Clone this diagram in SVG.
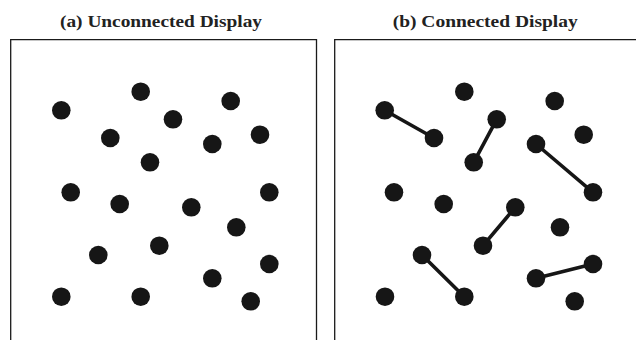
<svg xmlns="http://www.w3.org/2000/svg" width="636" height="340" viewBox="0 0 636 340">
<style>
.title{font-family:"Liberation Serif","DejaVu Serif",serif;font-weight:bold;font-size:17px;fill:#222;text-anchor:middle}
.frame{fill:none;stroke:#1a1a1a;stroke-width:1.3}
.dot{fill:#161616}
.link{stroke:#161616;stroke-width:3.6;stroke-linecap:round}
</style>
<rect width="636" height="340" fill="#fff"/>
<g id="panel-a">
<text class="title" x="161" y="26.5" textLength="202" lengthAdjust="spacingAndGlyphs">(a) Unconnected Display</text>
<path class="frame" d="M10.7,345 V39.7 H316.5 V345"/>
</g>
<g id="panel-b">
<text class="title" x="485.2" y="26.5" textLength="185" lengthAdjust="spacingAndGlyphs">(b) Connected Display</text>
<path class="frame" d="M334.7,345 V39.7 H645"/>
</g>
<g id="connectors">
<line class="link" x1="384.7" y1="110.3" x2="434" y2="138"/>
<line class="link" x1="496.7" y1="119.3" x2="473.7" y2="162.3"/>
<line class="link" x1="536" y1="144" x2="593" y2="192.3"/>
<line class="link" x1="515.3" y1="207.3" x2="483" y2="245.7"/>
<line class="link" x1="422" y1="255" x2="464.3" y2="296.7"/>
<line class="link" x1="536" y1="278.3" x2="593" y2="264"/>
</g>
<g id="dots-a">
<circle class="dot" cx="61.3" cy="110.3" r="9.3"/>
<circle class="dot" cx="140.7" cy="91.7" r="9.3"/>
<circle class="dot" cx="230.7" cy="101" r="9.3"/>
<circle class="dot" cx="173" cy="119.3" r="9.3"/>
<circle class="dot" cx="110.3" cy="138" r="9.3"/>
<circle class="dot" cx="212.3" cy="144" r="9.3"/>
<circle class="dot" cx="260" cy="134.7" r="9.3"/>
<circle class="dot" cx="150" cy="162.3" r="9.3"/>
<circle class="dot" cx="70.7" cy="192.3" r="9.3"/>
<circle class="dot" cx="269.3" cy="192.3" r="9.3"/>
<circle class="dot" cx="119.7" cy="204" r="9.3"/>
<circle class="dot" cx="191.3" cy="207.3" r="9.3"/>
<circle class="dot" cx="236.3" cy="227.3" r="9.3"/>
<circle class="dot" cx="98.3" cy="255" r="9.3"/>
<circle class="dot" cx="159.3" cy="245.7" r="9.3"/>
<circle class="dot" cx="269.3" cy="264" r="9.3"/>
<circle class="dot" cx="212.3" cy="278.3" r="9.3"/>
<circle class="dot" cx="61.3" cy="296.7" r="9.3"/>
<circle class="dot" cx="140.7" cy="296.7" r="9.3"/>
<circle class="dot" cx="250.7" cy="301.3" r="9.3"/>
</g>
<g id="dots-b">
<circle class="dot" cx="384.7" cy="110.3" r="9.3"/>
<circle class="dot" cx="464.3" cy="91.7" r="9.3"/>
<circle class="dot" cx="554.7" cy="101" r="9.3"/>
<circle class="dot" cx="496.7" cy="119.3" r="9.3"/>
<circle class="dot" cx="434" cy="138" r="9.3"/>
<circle class="dot" cx="536" cy="144" r="9.3"/>
<circle class="dot" cx="583.7" cy="134.7" r="9.3"/>
<circle class="dot" cx="473.7" cy="162.3" r="9.3"/>
<circle class="dot" cx="394" cy="192.3" r="9.3"/>
<circle class="dot" cx="593" cy="192.3" r="9.3"/>
<circle class="dot" cx="443.7" cy="204" r="9.3"/>
<circle class="dot" cx="515.3" cy="207.3" r="9.3"/>
<circle class="dot" cx="560" cy="227.3" r="9.3"/>
<circle class="dot" cx="422" cy="255" r="9.3"/>
<circle class="dot" cx="483" cy="245.7" r="9.3"/>
<circle class="dot" cx="593" cy="264" r="9.3"/>
<circle class="dot" cx="536" cy="278.3" r="9.3"/>
<circle class="dot" cx="385" cy="296.7" r="9.3"/>
<circle class="dot" cx="464.3" cy="296.7" r="9.3"/>
<circle class="dot" cx="574.7" cy="301.3" r="9.3"/>
</g>
</svg>
